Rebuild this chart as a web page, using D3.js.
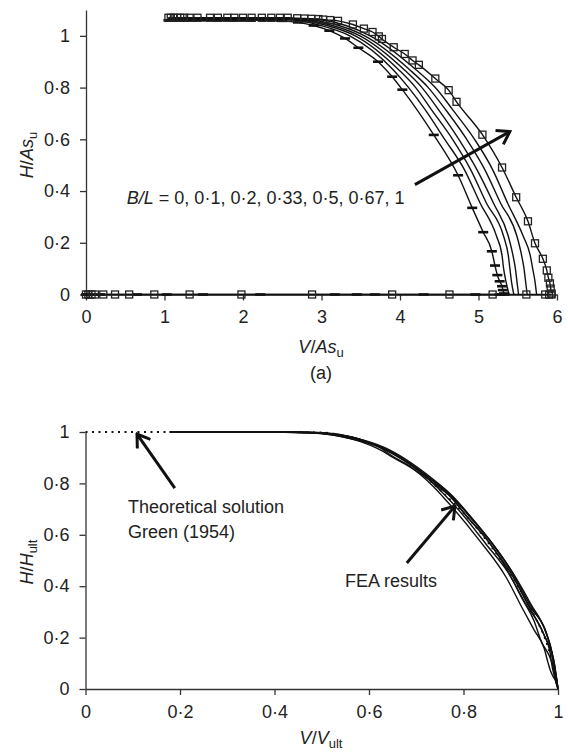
<!DOCTYPE html>
<html>
<head>
<meta charset="utf-8">
<script src="https://cdn.jsdelivr.net/npm/d3@7"></script>
<style>
  body { margin: 0; background: #fff; }
  svg { font-family: "Liberation Sans", Arial, sans-serif; }
  .axis path, .axis line { stroke: #333; stroke-width: 1.3; }
  .axis text { font-size: 18px; fill: #222; font-family: "Liberation Sans", Arial, sans-serif; }
  .lbl { font-size: 18px; fill: #222; }
  .curve { fill: none; stroke: #111; stroke-width: 1.4; }
</style>
</head>
<body>
<svg id="chart" width="568" height="752"></svg>
<script>
// ---- data ----
// (a) B/L = 1 (square markers) and B/L = 0 (dash markers): vertical loading along H = 0
const loadVBL1 = [0, 0.03, 0.07, 0.115, 0.22, 0.37, 0.55, 0.87, 1.32, 1.98, 2.88, 3.9, 4.63, 5.18, 5.61, 5.85, 5.9, 5.93];
const loadVBL0 = [0, 0.02, 0.05, 0.18, 0.65, 1.03, 1.49, 2.22, 3.17, 3.45, 3.68, 4.3, 4.96, 5.27, 5.33];

// (a) failure envelopes [V/As_u, H/As_u]
const envBL1 = [[1.05, 1.07], [1.08, 1.07], [1.12, 1.07], [1.16, 1.07], [1.2, 1.07], [1.25, 1.07], [1.32, 1.07],
  [1.42, 1.07], [1.58, 1.07], [1.68, 1.07], [1.8, 1.07], [1.89, 1.07], [2.0, 1.07], [2.11, 1.07], [2.24, 1.07],
  [2.36, 1.07], [2.47, 1.07], [2.57, 1.07], [2.69, 1.068], [2.78, 1.067], [2.87, 1.066], [2.96, 1.065],
  [3.02, 1.063], [3.11, 1.061], [3.21, 1.058], [3.4, 1.044], [3.54, 1.028], [3.65, 1.015], [3.73, 0.998],
  [3.77, 0.988], [3.92, 0.956], [4.06, 0.93], [4.16, 0.905], [4.24, 0.888], [4.45, 0.835], [4.62, 0.79],
  [4.72, 0.745], [5.05, 0.618], [5.3, 0.491], [5.48, 0.376], [5.63, 0.283], [5.72, 0.198], [5.82, 0.138],
  [5.87, 0.093], [5.89, 0.065], [5.91, 0.043], [5.92, 0.023], [5.93, 0.004]];
const envBL0 = [[1.05, 1.06], [1.1, 1.06], [1.2, 1.06], [1.35, 1.06], [1.5, 1.06], [1.7, 1.06], [1.9, 1.06],
  [2.1, 1.06], [2.3, 1.06], [2.5, 1.058], [2.7, 1.052], [2.9, 1.04], [3.1, 1.02], [3.3, 0.99], [3.47, 0.954],
  [3.72, 0.9], [3.9, 0.842], [4.03, 0.792], [4.43, 0.617], [4.74, 0.461], [4.92, 0.335], [5.06, 0.241],
  [5.17, 0.167], [5.21, 0.112], [5.24, 0.075], [5.27, 0.051], [5.3, 0.032], [5.31, 0.017], [5.325, 0.004]];
const envBL010 = [[1.05, 1.065], [2.0, 1.065], [2.6, 1.062], [2.99, 1.04], [3.36, 1.0], [3.91, 0.87], [4.11, 0.8],
  [4.32, 0.715], [4.57, 0.6], [4.82, 0.483], [5.02, 0.354], [5.23, 0.225], [5.3, 0.15], [5.32, 0.1], [5.35, 0.05], [5.39, 0]];
const envBL020 = [[1.05, 1.065], [2.0, 1.065], [2.6, 1.063], [3.07, 1.04], [3.43, 1.0], [3.98, 0.87], [4.2, 0.8],
  [4.4, 0.715], [4.67, 0.6], [4.9, 0.483], [5.1, 0.354], [5.32, 0.225], [5.38, 0.15], [5.4, 0.1], [5.42, 0.05], [5.45, 0]];
const envBL033 = [[1.05, 1.065], [2.0, 1.065], [2.6, 1.064], [3.14, 1.04], [3.49, 1.0], [4.05, 0.87], [4.28, 0.8],
  [4.49, 0.715], [4.75, 0.6], [4.98, 0.483], [5.19, 0.354], [5.38, 0.225], [5.44, 0.15], [5.47, 0.1], [5.49, 0.05], [5.51, 0]];
const envBL050 = [[1.05, 1.068], [2.0, 1.068], [2.7, 1.065], [3.22, 1.04], [3.55, 1.0], [4.12, 0.87], [4.36, 0.8],
  [4.58, 0.715], [4.85, 0.6], [5.08, 0.483], [5.28, 0.354], [5.49, 0.225], [5.55, 0.15], [5.58, 0.1], [5.6, 0.05], [5.62, 0]];
const envBL067 = [[1.05, 1.068], [2.0, 1.068], [2.8, 1.066], [3.31, 1.04], [3.62, 1.0], [4.2, 0.87], [4.45, 0.8],
  [4.67, 0.715], [4.95, 0.6], [5.18, 0.483], [5.37, 0.354], [5.57, 0.225], [5.66, 0.15], [5.69, 0.1], [5.72, 0.05], [5.74, 0]];
const envelopes = [envBL0, envBL010, envBL020, envBL033, envBL050, envBL067, envBL1];

// (b) theoretical solution, Green (1954) [V/V_ult, H/H_ult]
const theoryV = [0, 0.1, 0.2, 0.3, 0.4, 0.5, 0.55, 0.6, 0.65, 0.7, 0.75, 0.8, 0.85, 0.9, 0.95, 0.98, 1];
const theoryH = [1, 1, 1, 1, 1, 0.998, 0.985, 0.96, 0.92, 0.855, 0.775, 0.685, 0.575, 0.445, 0.285, 0.155, 0];

const xTicksA = [0, 1, 2, 3, 4, 5, 6];
const yTicks = [0, 0.2, 0.4, 0.6, 0.8, 1];
const xTicksB = [0, 0.2, 0.4, 0.6, 0.8, 1];

const svg = d3.select("#chart");
const fmt = (d) => String(d).replace(".", "·");

svg.append("defs").append("marker")
  .attr("id", "head")
  .attr("viewBox", "-14 -9 16 18")
  .attr("refX", 0).attr("refY", 0)
  .attr("markerWidth", 16).attr("markerHeight", 18)
  .attr("markerUnits", "userSpaceOnUse")
  .attr("orient", "auto")
  .append("path")
  .attr("d", "M-12,-8L0,0L-12,8")
  .attr("fill", "none").attr("stroke", "#111").attr("stroke-width", 3);

// ---------- panel (a) ----------
const xA = d3.scaleLinear().domain([0, 6]).range([86, 557]);
const yA = d3.scaleLinear().domain([0, 1.1]).range([294.5, 10]);

svg.append("g").attr("class", "axis").attr("transform", "translate(0,294.5)")
  .call(d3.axisBottom(xA).tickValues(xTicksA).tickSize(6).tickSizeOuter(0).tickPadding(10).tickFormat(fmt));
svg.append("g").attr("class", "axis").attr("transform", "translate(86,0)")
  .call(d3.axisLeft(yA).tickValues(yTicks).tickSize(6).tickSizeOuter(0).tickPadding(10).tickFormat(fmt));

const lineA = d3.line().x((d) => xA(d[0])).y((d) => yA(d[1])).curve(d3.curveMonotoneX);

const gA = svg.append("g");
envelopes.forEach((env) => {
  gA.append("path").datum(env).attr("class", "curve").attr("d", lineA);
});
gA.append("path").datum(loadVBL1.map((v) => [v, 0])).attr("class", "curve").attr("stroke-width", 2).attr("d", lineA);
gA.append("path").datum(loadVBL0.map((v) => [v, 0])).attr("class", "curve").attr("stroke-width", 2).attr("d", lineA);

// dash markers (B/L = 0)
const dashPts = envBL0.concat(loadVBL0.map((v) => [v, 0]));
gA.selectAll(".dash").data(dashPts).join("path")
  .attr("class", "dash")
  .attr("d", (d) => `M${xA(d[0]) - 5},${yA(d[1])}h10`)
  .attr("stroke", "#111").attr("stroke-width", 2.6);

// square markers (B/L = 1)
const sqPts = envBL1.concat(loadVBL1.map((v) => [v, 0]));
gA.selectAll(".sq").data(sqPts).join("rect")
  .attr("class", "sq")
  .attr("x", (d) => xA(d[0]) - 3.5).attr("y", (d) => yA(d[1]) - 3.5)
  .attr("width", 7).attr("height", 7)
  .attr("fill", "none").attr("stroke", "#222").attr("stroke-width", 1.3);

// annotation
svg.append("line")
  .attr("x1", xA(4.19)).attr("y1", yA(0.425)).attr("x2", xA(5.4)).attr("y2", yA(0.63))
  .attr("stroke", "#111").attr("stroke-width", 3).attr("marker-end", "url(#head)");
const tA = svg.append("text").attr("class", "lbl").attr("x", xA(0.52)).attr("y", yA(0.348));
tA.append("tspan").attr("font-style", "italic").text("B/L");
tA.append("tspan").text(" = 0, 0·1, 0·2, 0·33, 0·5, 0·67, 1");

// axis titles
const xtA = svg.append("text").attr("class", "lbl").attr("x", 321).attr("y", 353).attr("text-anchor", "middle");
xtA.append("tspan").attr("font-style", "italic").text("V");
xtA.append("tspan").text("/");
xtA.append("tspan").attr("font-style", "italic").text("As");
xtA.append("tspan").attr("font-size", 13).attr("dy", 4).text("u");

const ytA = svg.append("text").attr("class", "lbl").attr("text-anchor", "middle")
  .attr("transform", "translate(33,155) rotate(-90)");
ytA.append("tspan").attr("font-style", "italic").text("H");
ytA.append("tspan").text("/");
ytA.append("tspan").attr("font-style", "italic").text("As");
ytA.append("tspan").attr("font-size", 13).attr("dy", 4).text("u");

svg.append("text").attr("class", "lbl").attr("x", 321).attr("y", 379).attr("text-anchor", "middle").text("(a)");

// ---------- panel (b) ----------
const xB = d3.scaleLinear().domain([0, 1]).range([85.5, 558]);
const yB = d3.scaleLinear().domain([0, 1]).range([689, 432]);

svg.append("g").attr("class", "axis").attr("transform", "translate(0,689)")
  .call(d3.axisBottom(xB).tickValues(xTicksB).tickSize(6).tickSizeOuter(0).tickPadding(10).tickFormat(fmt));
svg.append("g").attr("class", "axis").attr("transform", "translate(85.5,0)")
  .call(d3.axisLeft(yB).tickValues(yTicks).tickSize(6).tickSizeOuter(0).tickPadding(10).tickFormat(fmt));

const lineB = d3.line().x((d) => xB(d[0])).y((d) => yB(d[1])).curve(d3.curveMonotoneX);

svg.append("path").datum(theoryV.map((v, i) => [v, theoryH[i]]))
  .attr("fill", "none").attr("stroke", "#111").attr("stroke-width", 1.8)
  .attr("stroke-dasharray", "2,4.5").attr("d", lineB);

// FEA results: each envelope normalised by its own ultimate loads
envelopes.forEach((env) => {
  const vUlt = d3.max(env, (d) => d[0]);
  const hUlt = d3.max(env, (d) => d[1]);
  svg.append("path").datum(env.map((d) => [d[0] / vUlt, d[1] / hUlt]))
    .attr("class", "curve").attr("stroke-width", 1.6).attr("d", lineB);
});

svg.append("line")
  .attr("x1", xB(0.189)).attr("y1", yB(0.782)).attr("x2", xB(0.109)).attr("y2", yB(0.992))
  .attr("stroke", "#111").attr("stroke-width", 3).attr("marker-end", "url(#head)");
svg.append("line")
  .attr("x1", xB(0.68)).attr("y1", yB(0.49)).attr("x2", xB(0.782)).attr("y2", yB(0.712))
  .attr("stroke", "#111").attr("stroke-width", 3).attr("marker-end", "url(#head)");

svg.append("text").attr("class", "lbl").attr("x", xB(0.09)).attr("y", yB(0.685)).text("Theoretical solution");
svg.append("text").attr("class", "lbl").attr("x", xB(0.09)).attr("y", yB(0.588)).text("Green (1954)");
svg.append("text").attr("class", "lbl").attr("x", xB(0.549)).attr("y", yB(0.397)).text("FEA results");

const xtB = svg.append("text").attr("class", "lbl").attr("x", 321).attr("y", 744).attr("text-anchor", "middle");
xtB.append("tspan").attr("font-style", "italic").text("V");
xtB.append("tspan").text("/");
xtB.append("tspan").attr("font-style", "italic").text("V");
xtB.append("tspan").attr("font-size", 13).attr("dy", 4).text("ult");

const ytB = svg.append("text").attr("class", "lbl").attr("text-anchor", "middle")
  .attr("transform", "translate(33,562) rotate(-90)");
ytB.append("tspan").attr("font-style", "italic").text("H");
ytB.append("tspan").text("/");
ytB.append("tspan").attr("font-style", "italic").text("H");
ytB.append("tspan").attr("font-size", 13).attr("dy", 4).text("ult");
</script>
</body>
</html>
